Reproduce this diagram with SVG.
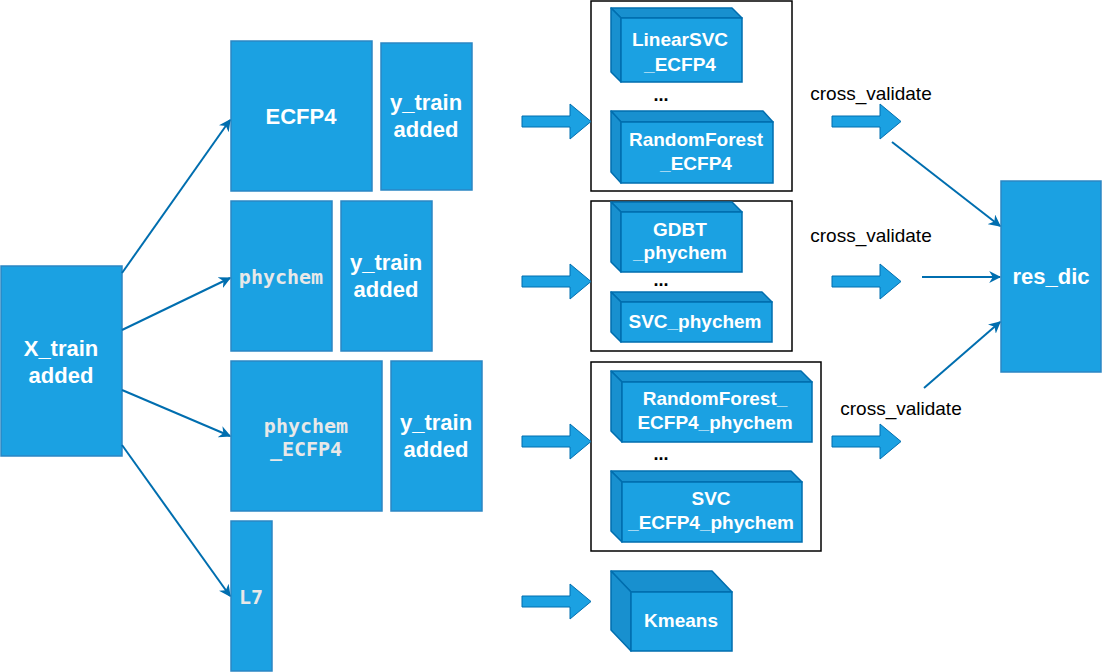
<svg xmlns="http://www.w3.org/2000/svg" width="1102" height="672" viewBox="0 0 1102 672">
<defs>
<style>
.box{fill:#1ba1e2;stroke:#2b86c4;stroke-width:1.5}
.lt{font-family:"Liberation Sans",Arial,sans-serif;font-weight:bold;font-size:22px;fill:#ffffff;text-anchor:middle}
.mt{font-family:"DejaVu Sans Mono",monospace;font-weight:bold;font-size:20px;fill:#e8e8e8;text-anchor:middle}
.ct{font-family:"Liberation Sans",Arial,sans-serif;font-weight:bold;font-size:19px;fill:#ffffff;text-anchor:middle}
.cv{font-family:"Liberation Sans",Arial,sans-serif;font-size:19px;fill:#000000;text-anchor:middle}
.dots{font-family:"Liberation Sans",Arial,sans-serif;font-weight:bold;font-size:18px;fill:#000000;text-anchor:middle}
.frame{fill:none;stroke:#000000;stroke-width:1.5}
.cf{fill:#1ba1e2;stroke:#006eaf;stroke-width:1.5}
.cs{fill:#1890cf;stroke:#006eaf;stroke-width:1.5;stroke-linejoin:round}
.ba{fill:#1ba1e2;stroke:#006eaf;stroke-width:1}
.ln{fill:none;stroke:#006eaf;stroke-width:2}
</style>
<marker id="ah2" viewBox="0 0 10 10" refX="9" refY="5" markerWidth="12" markerHeight="12" orient="auto" markerUnits="userSpaceOnUse">
<path d="M0,0 L10,5 L0,10 L3,5 Z" fill="#006eaf"/>
</marker>
</defs>

<g id="x_train"><rect class="box" x="1" y="266" width="121" height="190"/><text class="lt" x="61" y="356">X_train</text><text class="lt" x="61" y="383">added</text></g>

<g id="ecfp4"><rect class="box" x="231" y="41" width="141" height="150"/><text class="lt" x="301" y="124">ECFP4</text></g>
<g id="ytrain1"><rect class="box" x="381" y="43" width="91" height="147"/><text class="lt" x="426" y="110">y_train</text><text class="lt" x="426" y="137">added</text></g>

<g id="phychem"><rect class="box" x="231" y="201" width="101" height="150"/><text class="mt" x="281" y="284">phychem</text></g>
<g id="ytrain2"><rect class="box" x="341" y="201" width="91" height="150"/><text class="lt" x="386" y="270">y_train</text><text class="lt" x="386" y="297">added</text></g>

<g id="phychem_ecfp4"><rect class="box" x="231" y="361" width="151" height="150"/><text class="mt" x="306" y="433">phychem</text><text class="mt" x="306" y="456">_ECFP4</text></g>
<g id="ytrain3"><rect class="box" x="391" y="361" width="91" height="150"/><text class="lt" x="436" y="430">y_train</text><text class="lt" x="436" y="457">added</text></g>

<g id="l7"><rect class="box" x="231" y="521" width="41" height="150"/><text class="mt" x="251" y="604">L7</text></g>

<g id="frame1"><rect class="frame" x="591" y="1" width="201" height="190"/></g>
<g id="frame2"><rect class="frame" x="591" y="201" width="201" height="150"/></g>
<g id="frame3"><rect class="frame" x="591" y="362" width="230" height="189"/></g>

<g id="linearsvc">
<path class="cs" d="M611,8 L732,8 L742,18 L621,18 Z"/>
<path class="cs" d="M611,8 L621,18 L621,82 L611,72 Z"/>
<rect class="cf" x="621" y="18" width="121" height="64"/>
<text class="ct" x="680" y="46">LinearSVC</text><text class="ct" x="680" y="71">_ECFP4</text>
</g>
<text class="dots" x="661" y="101">...</text>
<g id="rf_ecfp4">
<path class="cs" d="M611,111 L763,111 L773,122 L621,122 Z"/>
<path class="cs" d="M611,111 L621,122 L621,183 L611,172 Z"/>
<rect class="cf" x="621" y="122" width="152" height="61"/>
<text class="ct" x="696" y="146">RandomForest</text><text class="ct" x="696" y="170">_ECFP4</text>
</g>

<g id="gdbt">
<path class="cs" d="M611,202 L732,202 L742,212 L621,212 Z"/>
<path class="cs" d="M611,202 L621,212 L621,272 L611,262 Z"/>
<rect class="cf" x="621" y="212" width="121" height="60"/>
<text class="ct" x="680" y="236">GDBT</text><text class="ct" x="680" y="259">_phychem</text>
</g>
<text class="dots" x="661" y="286">...</text>
<g id="svc_phychem">
<path class="cs" d="M611,292 L762,292 L772,302 L621,302 Z"/>
<path class="cs" d="M611,292 L621,302 L621,342 L611,332 Z"/>
<rect class="cf" x="621" y="302" width="151" height="40"/>
<text class="ct" x="695" y="328">SVC_phychem</text>
</g>

<g id="rf_ecfp4_phychem">
<path class="cs" d="M611,371 L801,371 L812,382 L622,382 Z"/>
<path class="cs" d="M611,371 L622,382 L622,442 L611,431 Z"/>
<rect class="cf" x="622" y="382" width="190" height="60"/>
<text class="ct" x="715" y="405">RandomForest_</text><text class="ct" x="715" y="429">ECFP4_phychem</text>
</g>
<text class="dots" x="661" y="460">...</text>
<g id="svc_ecfp4_phychem">
<path class="cs" d="M611,471 L791,471 L802,482 L622,482 Z"/>
<path class="cs" d="M611,471 L622,482 L622,542 L611,531 Z"/>
<rect class="cf" x="622" y="482" width="180" height="60"/>
<text class="ct" x="711" y="505">SVC</text><text class="ct" x="711" y="529">_ECFP4_phychem</text>
</g>

<g id="kmeans">
<path class="cs" d="M611,571 L712,571 L732,592 L631,592 Z"/>
<path class="cs" d="M611,571 L631,592 L631,651 L611,630 Z"/>
<rect class="cf" x="631" y="592" width="101" height="59"/>
<text class="ct" x="681" y="627">Kmeans</text>
</g>

<g id="res_dic"><rect class="box" x="1001" y="181" width="100" height="191"/><text class="lt" x="1051" y="284">res_dic</text></g>

<g id="labels">
<text class="cv" x="871" y="100">cross_validate</text>
<text class="cv" x="871" y="242">cross_validate</text>
<text class="cv" x="901" y="415">cross_validate</text>
</g>

<g id="connectors">
<line class="ln" x1="122" y1="273" x2="230" y2="120" marker-end="url(#ah2)"/>
<line class="ln" x1="122" y1="330" x2="230" y2="278" marker-end="url(#ah2)"/>
<line class="ln" x1="122" y1="390" x2="230" y2="436" marker-end="url(#ah2)"/>
<line class="ln" x1="122" y1="445" x2="230" y2="596" marker-end="url(#ah2)"/>
<line class="ln" x1="892" y1="142" x2="1000" y2="226" marker-end="url(#ah2)"/>
<line class="ln" x1="922" y1="277" x2="1000" y2="277" marker-end="url(#ah2)"/>
<line class="ln" x1="924" y1="388" x2="1000" y2="322" marker-end="url(#ah2)"/>
<path class="ba" d="M522,116 L570,116 L570,104 L591,121.5 L570,139 L570,127 L522,127 Z"/>
<path class="ba" d="M522,276 L570,276 L570,264 L591,281.5 L570,299 L570,287 L522,287 Z"/>
<path class="ba" d="M522,436 L570,436 L570,424 L591,441.5 L570,459 L570,447 L522,447 Z"/>
<path class="ba" d="M522,596 L570,596 L570,584 L591,601.5 L570,619 L570,607 L522,607 Z"/>
<path class="ba" d="M832,116 L880,116 L880,104 L901,121.5 L880,139 L880,127 L832,127 Z"/>
<path class="ba" d="M832,276 L880,276 L880,264 L901,281.5 L880,299 L880,287 L832,287 Z"/>
<path class="ba" d="M832,436 L880,436 L880,424 L901,441.5 L880,459 L880,447 L832,447 Z"/>
</g>
</svg>
